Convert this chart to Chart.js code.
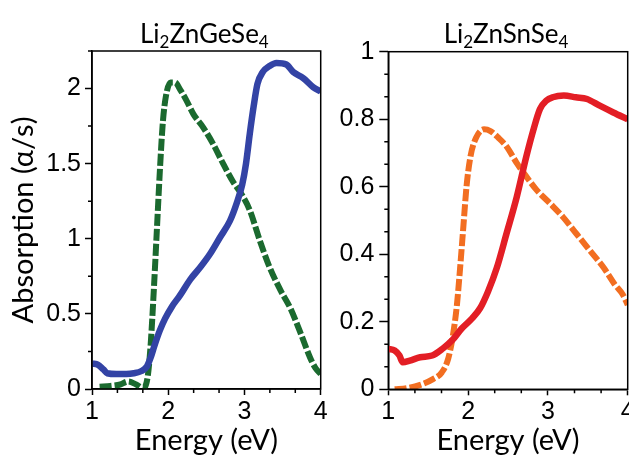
<!DOCTYPE html>
<html><head><meta charset="utf-8">
<script src="https://cdn.jsdelivr.net/npm/chart.js@4.4.1/dist/chart.umd.min.js"></script>
<style>
html,body{margin:0;padding:0;background:#fff;overflow:hidden;width:629px;height:455px;}
#wrap{position:relative;width:629px;height:455px;overflow:hidden;background:#fff;}
.pane{position:absolute;top:0;}
</style></head><body>
<div id="wrap">
<div class="pane" style="left:0;width:335px;height:470px"><canvas id="cL" width="335" height="470"></canvas></div>
<div class="pane" style="left:330px;width:320px;height:470px"><canvas id="cR" width="320" height="470"></canvas></div>
</div>
<script>
// ---- tick labels / text ----
const xTickValues = [1, 2, 3, 4];
const xTickLabels = ['1', '2', '3', '4'];
const yTickValuesGe = [0, 0.5, 1, 1.5, 2];
const yTickLabelsGe = ['0', '0.5', '1', '1.5', '2'];
const yTickValuesSn = [0, 0.2, 0.4, 0.6, 0.8, 1];
const yTickLabelsSn = ['0', '0.2', '0.4', '0.6', '0.8', '1'];
const titleGe = [['Li', false], ['2', true], ['ZnGeSe', false], ['4', true]];
const titleSn = [['Li', false], ['2', true], ['ZnSnSe', false], ['4', true]];
const xAxisTitle = 'Energy (eV)';
const yAxisTitle = 'Absorption (\u03B1/s)';

// ---- Li2ZnGeSe4 ----
const geSolidE = [1.00,1.08,1.15,1.20,1.32,1.45,1.55,1.65,1.72,1.77,1.82,1.89,1.96,2.05,2.15,2.29,2.42,2.55,2.68,2.81,2.90,2.97,3.02,3.07,3.12,3.17,3.24,3.33,3.42,3.55,3.64,3.77,3.90,4.00];
const geSolidA = [0.17,0.16,0.13,0.105,0.10,0.10,0.105,0.12,0.15,0.21,0.29,0.39,0.47,0.55,0.62,0.73,0.81,0.90,1.01,1.12,1.24,1.36,1.50,1.70,1.88,2.03,2.11,2.15,2.17,2.16,2.11,2.07,2.01,1.98];
const geDashE = [1.10,1.24,1.37,1.47,1.58,1.67,1.73,1.77,1.81,1.85,1.89,1.93,1.97,2.03,2.09,2.16,2.24,2.33,2.46,2.59,2.72,2.85,2.97,3.07,3.20,3.33,3.47,3.60,3.73,3.86,3.93,4.00];
const geDashA = [0.015,0.02,0.03,0.05,0.03,0.005,0.08,0.30,0.65,1.05,1.45,1.78,1.95,2.04,2.04,1.99,1.92,1.83,1.74,1.63,1.50,1.38,1.29,1.19,0.99,0.81,0.66,0.54,0.38,0.21,0.14,0.10];

// ---- Li2ZnSnSe4 ----
const snSolidE = [1.00,1.08,1.14,1.18,1.27,1.40,1.55,1.68,1.80,1.92,2.05,2.15,2.25,2.36,2.48,2.61,2.73,2.82,2.90,2.98,3.06,3.20,3.35,3.49,3.65,3.82,4.00];
const snSolidA = [0.12,0.115,0.10,0.08,0.085,0.095,0.10,0.12,0.145,0.18,0.21,0.24,0.29,0.36,0.46,0.57,0.69,0.77,0.83,0.855,0.865,0.87,0.865,0.86,0.84,0.82,0.80];
const snDashE = [1.08,1.23,1.40,1.56,1.67,1.75,1.81,1.86,1.90,1.94,1.98,2.03,2.10,2.20,2.28,2.38,2.48,2.61,2.73,2.86,3.03,3.19,3.36,3.53,3.70,3.84,3.94,4.00];
const snDashA = [0.0,0.003,0.013,0.03,0.05,0.09,0.16,0.25,0.36,0.48,0.60,0.69,0.745,0.77,0.765,0.745,0.72,0.67,0.63,0.59,0.55,0.51,0.46,0.41,0.36,0.31,0.28,0.25];

const pts = (xs, ys) => xs.map((x, i) => ({x: x, y: ys[i]}));

function zeroPad(s) { s.paddingLeft = 0; s.paddingRight = 0; s.paddingTop = 0; s.paddingBottom = 0; }

const tickFont = {family: 'Liberation Sans', size: 25};
const axisTitleFont = {family: 'Lato', size: 29};

function xScale(height) {
  return {
    type: 'linear', min: 1, max: 4,
    afterBuildTicks: s => { s.ticks = xTickValues.map(v => ({value: v})); },
    afterFit: s => { s.height = height; zeroPad(s); },
    ticks: {font: tickFont, color: '#000', padding: 2, maxRotation: 0, autoSkip: false,
      callback: v => { const i = xTickValues.indexOf(v); return i >= 0 ? xTickLabels[i] : ''; }},
    grid: {drawOnChartArea: false, drawTicks: true, tickLength: 6, tickColor: '#000', tickWidth: 1.5},
    border: {display: true, color: '#000', width: 1.5},
    title: {display: true, text: xAxisTitle, font: axisTitleFont, color: '#000', padding: {top: 0, bottom: 12}}
  };
}
function yScale(max, vals, labels, width, tl, pad, withTitle) {
  return {
    type: 'linear', min: 0, max: max,
    afterBuildTicks: s => { s.ticks = vals.map(v => ({value: v})); },
    afterFit: s => { s.width = width; zeroPad(s); },
    ticks: {font: tickFont, color: '#000', padding: pad, autoSkip: false,
      callback: v => { const i = vals.indexOf(v); return i >= 0 ? labels[i] : ''; }},
    grid: {drawOnChartArea: false, drawTicks: true, tickLength: tl, tickColor: '#000', tickWidth: 1.5},
    border: {display: true, color: '#000', width: 1.5},
    title: withTitle ? {display: true, text: yAxisTitle, font: axisTitleFont, color: '#000', padding: {top: 6.3, bottom: 0}} : {display: false}
  };
}

function framePlugin(xSub, ySub) {
  return {
    id: 'frameMinor',
    afterDraw(chart) {
      const {ctx, chartArea: a, scales: {x, y}} = chart;
      ctx.save();
      ctx.strokeStyle = '#000'; ctx.lineWidth = 1.5;
      ctx.strokeRect(a.left, a.top, a.right - a.left, a.bottom - a.top);
      const xMajor = xTickValues[1] - xTickValues[0];
      const xs = xMajor / xSub;
      ctx.beginPath();
      for (let i = 0; x.min + i * xs <= x.max + 1e-9; i++) {
        if (i % xSub === 0) continue;
        const px = x.getPixelForValue(x.min + i * xs);
        ctx.moveTo(px, a.bottom); ctx.lineTo(px, a.bottom + 4);
      }
      const yv = chart.$yVals;
      const ys = (yv[1] - yv[0]) / ySub;
      for (let i = 0; y.min + i * ys <= y.max + 1e-9; i++) {
        if (i % ySub === 0) continue;
        const py = y.getPixelForValue(y.min + i * ys);
        ctx.moveTo(a.left, py); ctx.lineTo(a.left - 4, py);
      }
      ctx.stroke();
      ctx.restore();
    }
  };
}

function titlePlugin(parts, dx) {
  return {
    id: 'richTitle',
    afterDraw(chart) {
      const {ctx, chartArea: a} = chart;
      const size = 26, subSize = 17, family = 'Lato', baseline = 43, subShift = 5;
      ctx.save();
      ctx.fillStyle = '#000'; ctx.textBaseline = 'alphabetic'; ctx.textAlign = 'left';
      const widths = parts.map(([t, sub]) => { ctx.font = (sub ? subSize : size) + 'px ' + family; return ctx.measureText(t).width; });
      const total = widths.reduce((s, w) => s + w, 0);
      let xx = (a.left + a.right) / 2 + dx - total / 2;
      parts.forEach(([t, sub], i) => {
        ctx.font = (sub ? subSize : size) + 'px ' + family;
        ctx.fillText(t, xx, baseline + (sub ? subShift : 0));
        xx += widths[i];
      });
      ctx.restore();
    }
  };
}

function makeChart(id, cfg) {
  return new Chart(document.getElementById(id), {
    type: 'line',
    data: {datasets: [
      {data: pts(cfg.solidE, cfg.solidA), borderColor: cfg.solidColor, borderWidth: 6.5, pointRadius: 0, cubicInterpolationMode: 'monotone', fill: false, borderCapStyle: 'butt'},
      {data: pts(cfg.dashE, cfg.dashA), borderColor: cfg.dashColor, borderWidth: 6, borderDash: [12, 3], pointRadius: 0, cubicInterpolationMode: 'monotone', fill: false, borderCapStyle: 'butt'}
    ]},
    options: {
      responsive: false, animation: false, devicePixelRatio: 1,
      layout: {padding: cfg.padding},
      plugins: {legend: {display: false}, tooltip: {enabled: false}, title: {display: false}},
      scales: {x: xScale(cfg.xHeight), y: yScale(cfg.yMax, cfg.yVals, cfg.yLabels, cfg.yWidth, cfg.yTl, cfg.yPad, cfg.yTitle)}
    },
    plugins: [
      {id: 'setVals', beforeInit(chart) { chart.$yVals = cfg.yVals; }},
      framePlugin(3, cfg.ySub), titlePlugin(cfg.title, -2)
    ]
  });
}

makeChart('cL', {
  solidE: geSolidE, solidA: geSolidA, dashE: geDashE, dashA: geDashA,
  solidColor: '#3343A5', dashColor: '#1B6A2F',
  padding: {top: 51, left: 0, right: 14.3, bottom: 0},
  xHeight: 81, yMax: 2.25, yVals: yTickValuesGe, yLabels: yTickLabelsGe, yWidth: 92, yTl: 7, yPad: 4, yTitle: true,
  ySub: 2, title: titleGe
});
makeChart('cR', {
  solidE: snSolidE, solidA: snSolidA, dashE: snDashE, dashA: snDashA,
  solidColor: '#E31E25', dashColor: '#F26E21',
  padding: {top: 51.7, left: 0, right: 22.3, bottom: 0},
  xHeight: 80.7, yMax: 1, yVals: yTickValuesSn, yLabels: yTickLabelsSn, yWidth: 58.3, yTl: 9, yPad: 5, yTitle: false,
  ySub: 3, title: titleSn
});
</script>
</body></html>
